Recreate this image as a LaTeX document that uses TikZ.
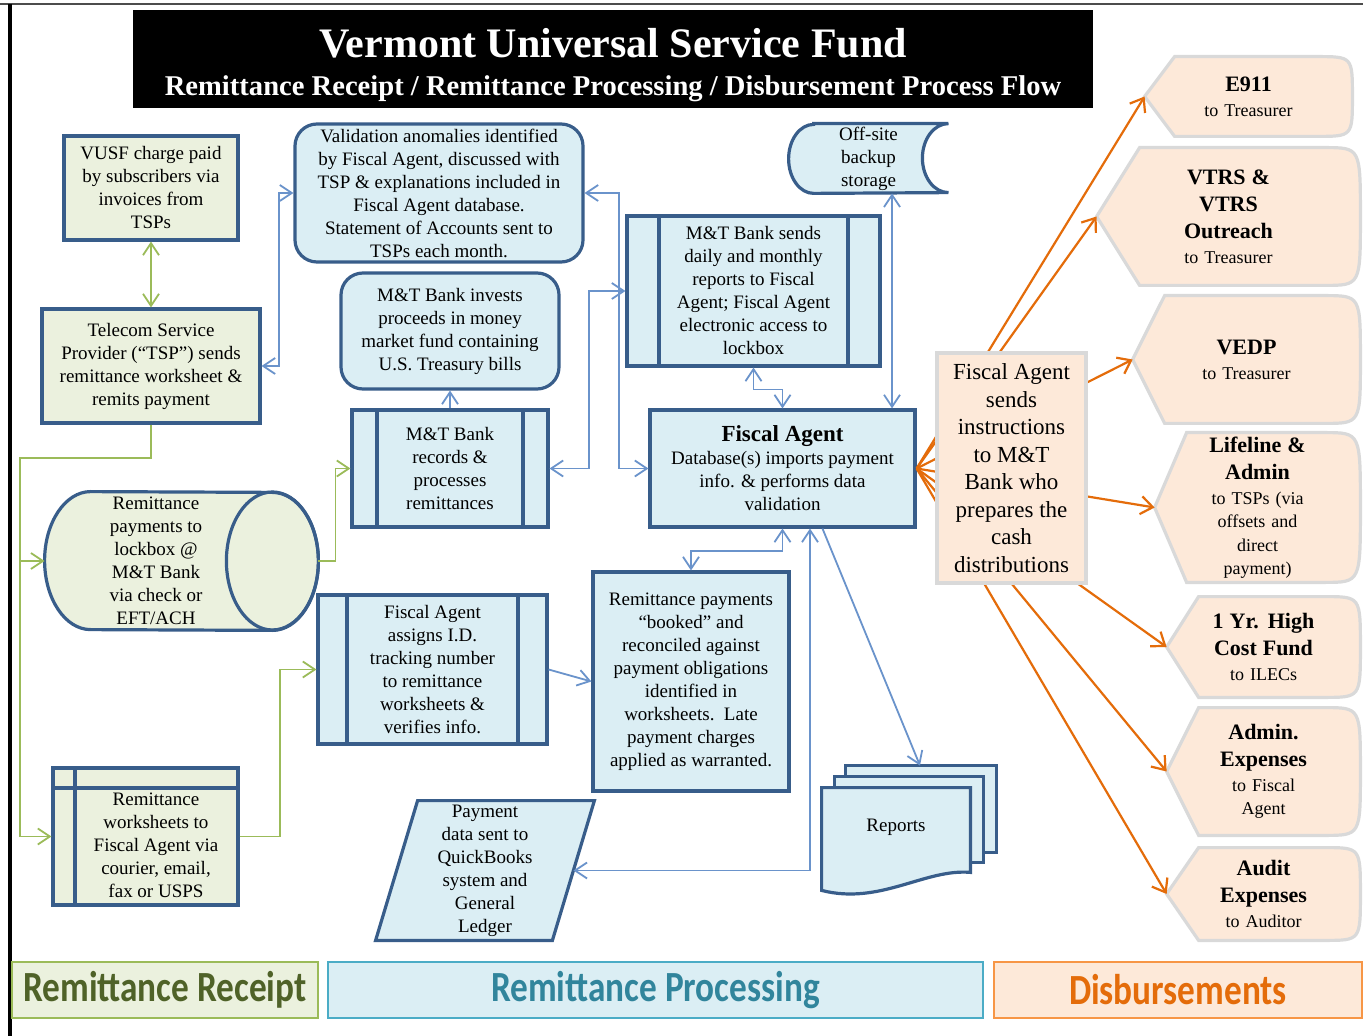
\documentclass[tikz,border=0pt]{standalone}
\usepackage{fontspec}
\setmainfont{Liberation Serif}
\newfontfamily\barfont[FakeStretch=0.82]{Carlito}
\usetikzlibrary{arrows.meta,backgrounds}

\definecolor{boxline}{HTML}{385D8A}
\definecolor{recvfill}{HTML}{EBF1DE}
\definecolor{procfill}{HTML}{DBEEF4}
\definecolor{disbfill}{HTML}{FDE9D9}
\definecolor{disbedge}{HTML}{D9D9D9}
\definecolor{recvarrow}{HTML}{9BBB59}
\definecolor{procarrow}{HTML}{6A93CB}
\definecolor{disbarrow}{HTML}{E46C0A}
\definecolor{recvtext}{HTML}{4F6228}
\definecolor{proctext}{HTML}{31859C}
\definecolor{procedge}{HTML}{4BACC6}
\definecolor{disbedge2}{HTML}{F79646}

\newcommand{\disphead}[1]{{\fontsize{11}{13.5}\selectfont\bfseries #1\par}\vspace{0.8pt}}

\tikzset{
  boxtext/.style={font=\fontsize{9.5}{11.5}\selectfont, align=center, inner sep=1pt},
  recvbox/.style={boxtext, draw=boxline, line width=1.6pt, fill=recvfill},
  procbox/.style={boxtext, draw=boxline, line width=1.6pt, fill=procfill},
  disbbox/.style={draw=disbedge, line width=1.6pt, fill=disbfill},
  dispnode/.style={font=\fontsize{9}{11.7}\selectfont, align=center, text width=82pt, inner sep=1pt},
  predef/.style={path picture={
    \draw[boxline, line width=1.6pt]
      ([xshift=#1]path picture bounding box.north west) -- ([xshift=#1]path picture bounding box.south west)
      ([xshift=-#1]path picture bounding box.north east) -- ([xshift=-#1]path picture bounding box.south east);}},
  storage/.style={path picture={
    \draw[boxline, line width=1.6pt]
      ([xshift=11pt]path picture bounding box.north west) -- ([xshift=11pt]path picture bounding box.south west)
      ([yshift=-10pt]path picture bounding box.north west) -- ([yshift=-10pt]path picture bounding box.north east);}},
  recvline/.style={draw=recvarrow, line width=0.9pt},
  procline/.style={draw=procarrow, line width=0.9pt},
  disbline/.style={draw=disbarrow, line width=1.1pt, -{Straight Barb[length=6pt,width=9pt]}},
  legend/.style={line width=0.8pt, minimum height=28pt, font=\barfont\bfseries\fontsize{21.5}{24}\selectfont}
}

\begin{document}
\begin{tikzpicture}[x=0.5pt, y=-0.5pt, >={Straight Barb[length=6pt,width=8pt]}]

	\useasboundingbox (0,0) rectangle (1363,1036);
	\begin{scope}[on background layer]
		\fill[white] (0,0) rectangle (1363,1036);
	\end{scope}

	% Frame and title
	\draw[black!70, line width=0.6pt] (0,4) -- (1363,4);
	\draw[line width=1.6pt] (10,4) -- (10,1036);
	\node[fill=black, minimum width=480pt, minimum height=49pt] (title) at (613,59) {};
	\node[text=white, align=center, font=\bfseries\fontsize{14.3}{19}\selectfont] (titletext) at (613,65)
		{{\fontsize{21}{19}\selectfont Vermont Universal Service Fund}\\Remittance Receipt / Remittance Processing / Disbursement Process Flow};

	% Remittance receipt boxes
	\node[recvbox, minimum width=87pt, minimum height=52pt] (vusf) at (151,188) {VUSF charge paid\\by subscribers via\\invoices from\\TSPs};
	\node[recvbox, minimum width=109pt, minimum height=57pt] (tsp) at (151,366) {Telecom Service\\Provider (“TSP”) sends\\remittance worksheet \&\\remits payment};
	\node[minimum width=136.5pt, minimum height=69pt] (lockbox) at (181.5,561) {};
	\node[boxtext] (lockboxtext) at (156,561) {Remittance\\payments to\\lockbox @\\M\&T Bank\\via check or\\EFT/ACH};
	\node[recvbox, storage, minimum width=92.5pt, minimum height=68.5pt] (sheets) at (145.5,836.5) {};
	\node[boxtext] (sheetstext) at (156,845) {Remittance\\worksheets to\\Fiscal Agent via\\courier, email,\\fax or USPS};

	% Remittance processing boxes
	\node[procbox, rounded corners=11pt, minimum width=144pt, minimum height=69pt] (valid) at (439,193) {Validation anomalies identified\\by Fiscal Agent, discussed with\\TSP \& explanations included in\\Fiscal Agent database.\\Statement of Accounts sent to\\TSPs each month.};
	\node[procbox, rounded corners=11pt, minimum width=109pt, minimum height=58pt] (invest) at (450,331) {M\&T Bank invests\\proceeds in money\\market fund containing\\U.S. Treasury bills};
	\node[procbox, predef=12.5pt, minimum width=98pt, minimum height=58.5pt] (records) at (450,468.5) {M\&T Bank\\records \&\\processes\\remittances};
	\node[procbox, predef=16pt, minimum width=126.5pt, minimum height=75pt] (mtsends) at (753.5,291) {M\&T Bank sends\\daily and monthly\\reports to Fiscal\\Agent; Fiscal Agent\\electronic access to\\lockbox};
	\node[boxtext, minimum width=79.5pt, minimum height=34.5pt] (backup) at (868.5,158.5) {Off-site\\backup\\storage};
	\node[procbox, minimum width=132.5pt, minimum height=58.5pt] (fiscal) at (782.5,468.5) {{\fontsize{11.5}{12}\selectfont\bfseries Fiscal Agent}\\Database(s) imports payment\\info. \& performs data\\validation};
	\node[procbox, predef=14.5pt, minimum width=114.5pt, minimum height=74.5pt] (assigns) at (432.5,669.5) {Fiscal Agent\\assigns I.D.\\tracking number\\to remittance\\worksheets \&\\verifies info.};
	\node[procbox, minimum width=98pt, minimum height=109.5pt] (booked) at (691,681.5) {Remittance payments\\“booked” and\\reconciled against\\payment obligations\\identified in\\worksheets.\ \ Late\\payment charges\\applied as warranted.};
	\node[boxtext, minimum width=88pt, minimum height=69.5pt] (ledger) at (485,870.5) {Payment\\data sent to\\QuickBooks\\system and\\General\\Ledger};
	\node[boxtext, minimum width=74pt, minimum height=39pt] (reports) at (896,827) {Reports};

	% Disbursement targets
	\node[dispnode, minimum width=103.5pt, minimum height=39.5pt] (e911) at (1248.5,96.5) {\disphead{E911}to Treasurer};
	\node[dispnode, minimum width=131.5pt, minimum height=68.5pt] (vtrs) at (1228.5,216.5) {\disphead{VTRS \&\\VTRS\\Outreach}to Treasurer};
	\node[dispnode, minimum width=113.5pt, minimum height=63.5pt] (vedp) at (1246.5,359.5) {\disphead{VEDP}to Treasurer};
	\node[dispnode, minimum width=102.5pt, minimum height=74.5pt] (lifeline) at (1257.5,507.5) {\disphead{Lifeline \&\\Admin}to TSPs (via\\offsets and\\direct\\payment)};
	\node[dispnode, minimum width=96.5pt, minimum height=50pt] (highcost) at (1263.5,647) {\disphead{1 Yr. High\\Cost Fund}to ILECs};
	\node[dispnode, minimum width=96.5pt, minimum height=63.5pt] (adminexp) at (1263.5,771.5) {\disphead{Admin.\\Expenses}to Fiscal\\Agent};
	\node[dispnode, minimum width=96.5pt, minimum height=46pt] (audit) at (1263.5,894) {\disphead{Audit\\Expenses}to Auditor};

	% Drawn outlines behind the text
	\begin{scope}[on background layer]
		\filldraw[draw=boxline, line width=1.6pt, fill=recvfill]
			([xshift=23pt]lockbox.north west) arc[start angle=90, end angle=270, x radius=23pt, y radius=34.5pt]
			-- ([xshift=-23pt]lockbox.south east) arc[start angle=-90, end angle=90, x radius=23pt, y radius=34.5pt] -- cycle;
		\draw[boxline, line width=1.6pt] ([xshift=-23pt]lockbox.east) ellipse[x radius=23pt, y radius=34.5pt];
		\filldraw[draw=boxline, line width=1.6pt, fill=procfill]
			([xshift=12.5pt]backup.north west) -- (backup.north east)
			arc[start angle=90, end angle=270, x radius=13pt, y radius=17.25pt]
			-- ([xshift=12.5pt]backup.south west)
			arc[start angle=-90, end angle=-270, x radius=12.5pt, y radius=17.25pt] -- cycle;
		\filldraw[draw=boxline, line width=1.6pt, fill=procfill]
			([xshift=10.5pt]ledger.north west) -- ([xshift=10.5pt]ledger.north east)
			-- ([xshift=-10.5pt]ledger.south east) -- ([xshift=-10.5pt]ledger.south west) -- cycle;
		\filldraw[draw=boxline, line width=1.6pt, fill=procfill]
			([xshift=12pt,yshift=11pt]reports.north west) rectangle ([xshift=13pt,yshift=7pt]reports.south east);
		\filldraw[draw=boxline, line width=1.6pt, fill=procfill]
			([xshift=6.5pt,yshift=5.5pt]reports.north west) rectangle ([xshift=6.5pt,yshift=2pt]reports.south east);
		\filldraw[draw=boxline, line width=1.6pt, fill=procfill]
			(reports.north west) -- (reports.north east) -- ([yshift=-3pt]reports.south east)
			.. controls ([xshift=14.5pt,yshift=-1pt]reports.south) and ([xshift=-8pt,yshift=-19.5pt]reports.south) .. ([yshift=-12pt]reports.south west) -- cycle;
		\foreach \d/\p in {e911/15pt, vtrs/21.5pt, vedp/16pt, lifeline/16pt, highcost/16pt, adminexp/16pt, audit/16pt}
			\filldraw[disbbox] (\d.west) -- ([xshift=\p]\d.north west) -- ([xshift=-18pt]\d.north east)
				.. controls (\d.north east) .. (\d.east) .. controls (\d.south east) .. ([xshift=-18pt]\d.south east)
				-- ([xshift=\p]\d.south west) -- cycle;
	\end{scope}

	% Receipt connectors
	\coordinate (trunk) at (20,458);
	\draw[recvline, <->] (vusf) -- (tsp);
	\draw[recvline, ->] (tsp.south) |- (trunk) |- (lockbox.west);
	\draw[recvline, ->] (trunk) |- (sheets.west);
	\draw[recvline, ->] (lockbox.east) -- ++(17,0) |- (records.west);
	\draw[recvline, ->] (sheets.east) -- ++(40,0) |- (assigns.west);

	% Processing connectors
	\draw[procline, <->] (tsp.east) -- ++(17,0) |- (valid.west);
	\draw[procline, <->] (valid.east) -- ++(34,0) |- (fiscal.west);
	\draw[procline, <->] (records.east) -- ++(39,0) |- (mtsends.west);
	\draw[procline, ->] (records.north) -- (invest.south);
	\draw[procline, <->] (mtsends.south) -- ++(0,22) -| (fiscal.north);
	\draw[procline, <->] ([xshift=11.75pt]backup.south) -- ([xshift=54.75pt]fiscal.north);
	\draw[procline, <->] (fiscal.south) -- ++(0,22) -| (booked.north);
	\draw[procline, <->] ([xshift=13.75pt]fiscal.south) |- (ledger.east);
	\draw[procline, ->] ([xshift=20pt]fiscal.south) -- ([xshift=12pt,yshift=11pt]reports.north);
	\draw[procline, ->] (assigns.east) -- (booked.west);

	% Disbursement arrows, then the instruction box over them
	\foreach \d in {e911,vtrs,vedp,lifeline,highcost,adminexp,audit}
		\draw[disbline] (fiscal.east) -- (\d.west);
	\node[disbbox, font=\fontsize{11.5}{13.75}\selectfont, align=center, inner sep=1pt, minimum width=74.5pt, minimum height=115pt] (sends) at (1011.5,468)
		{Fiscal Agent\\sends\\instructions\\to M\&T\\Bank who\\prepares the\\cash\\distributions};

	% Legend bars
	\node[legend, draw=recvarrow, fill=recvfill, text=recvtext, minimum width=153pt] (recvbar) at (165,990) {Remittance Receipt};
	\node[legend, draw=procedge, fill=procfill, text=proctext, minimum width=327.5pt] (procbar) at (655.5,990) {Remittance Processing};
	\node[legend, draw=disbedge2, fill=disbfill, text=disbarrow, minimum width=184pt] (disbbar) at (1178,990) {Disbursements};

\end{tikzpicture}
\end{document}
